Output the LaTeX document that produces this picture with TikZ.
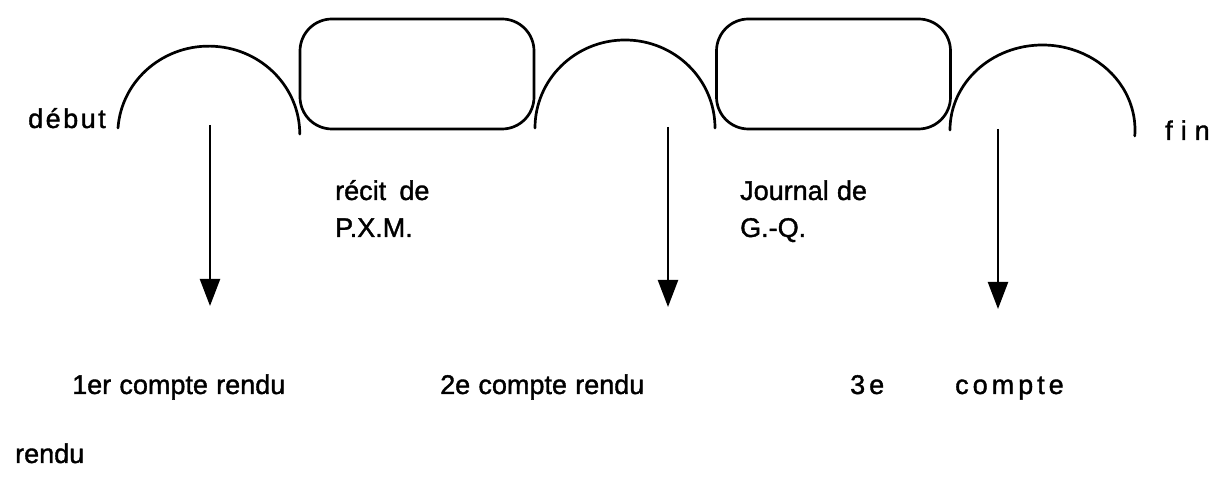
\documentclass[tikz,border=0pt]{standalone}
\usepackage{fontspec}
\setmainfont{Liberation Sans}
\newfontfamily\labelfont[FakeBold=1.4, WordSpace=1.1]{Liberation Sans}
\usetikzlibrary{arrows.meta}
\tikzset{
  x=1pt, y=1pt,
  curve/.style={line width=2.7pt, line cap=round},
  episode/.style={draw, line width=2.7pt, rounded corners=32pt,
    minimum width=234pt, minimum height=110pt, inner sep=0pt},
  label/.style={anchor=base west, inner sep=0pt,
    font=\labelfont\fontsize{27}{30}\selectfont},
  report/.style={line width=2.3pt, -{Triangle[length=27pt,width=20pt]}}
}
\begin{document}
\begin{tikzpicture}
\useasboundingbox (0,0) rectangle (1232,481);

% the two framed episodes
\node[episode] (recit) at (417,407) {};
\node[episode] (journal) at (833.5,407) {};

% the three open arches of the plot line
\draw[curve] (118,353) arc[start angle=176, end angle=0, x radius=91pt, y radius=88pt];
\draw[curve] (535,353) arc[start angle=180, end angle=0, x radius=90pt, y radius=88pt];
\draw[curve] (950,351) arc[start angle=180, end angle=-4, x radius=92.5pt, y radius=85pt];

% labels along the line
\node[label] (debut) at (28,353) {d\kern2.5pt é\kern2.5pt b\kern2.5pt u\kern2.5pt t};
\node[label] (fin) at (1165,341) {f\kern8pt i\kern8pt n};
\node[label] (recitA) at (335,281) {récit\hspace{5pt} de};
\node[label] (recitB) at (335,244) {P.X.M.};
\node[label] (journalA) at (740,281) {Journal de};
\node[label] (journalB) at (740,244) {G.-Q.};

% the three accounts
\node[label] (cr1) at (72,87) {1er compte rendu};
\node[label] (cr2) at (440,87) {2e compte rendu};
\node[label] (cr3a) at (850,87) {3\kern4pt e};
\node[label] (cr3b) at (955,87) {c\kern4pt o\kern4pt m\kern4pt p\kern4pt t\kern4pt e};
\node[label] (cr3c) at (15,18) {rendu};

% arrows down to the accounts
\coordinate (a1s) at (210,356);
\coordinate (a1e) at (210,175);
\coordinate (a2s) at (668,354);
\coordinate (a2e) at (668,174);
\coordinate (a3s) at (998,352);
\coordinate (a3e) at (998,172);
\draw[report] (a1s) -- (a1e);
\draw[report] (a2s) -- (a2e);
\draw[report] (a3s) -- (a3e);
\end{tikzpicture}
\end{document}
